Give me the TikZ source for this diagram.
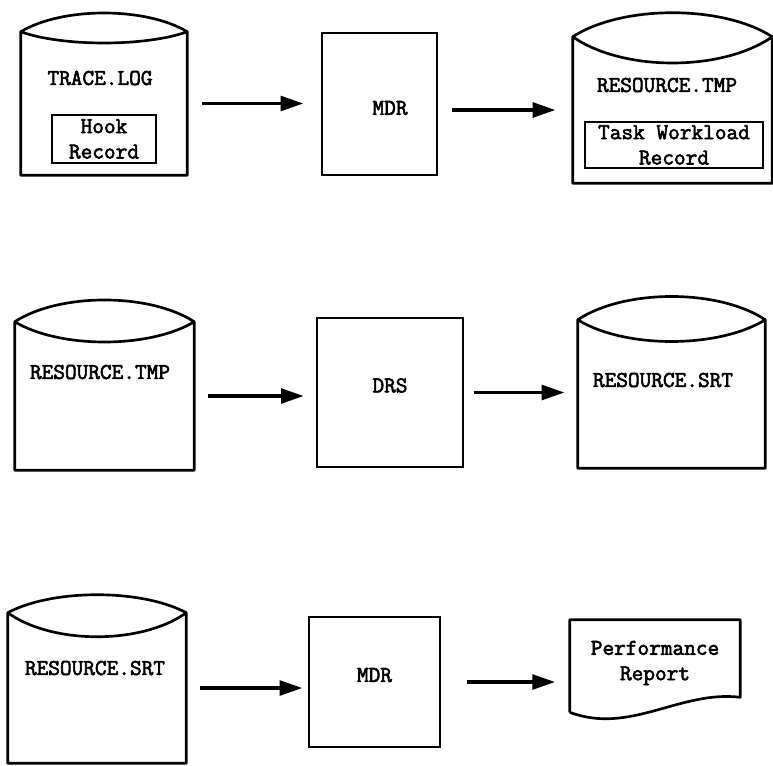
\documentclass[tikz,border=0pt]{standalone}
\usepackage{fontspec}
\setmonofont{Latin Modern Mono}[FakeBold=2.6]
\usetikzlibrary{arrows.meta,fit,calc}

\tikzset{
  every node/.style={font=\ttfamily\fontsize{17}{19}\selectfont},
  storearea/.style={inner sep=0pt},
  storeline/.style={line width=2pt, line join=round},
  prog/.style={draw, line width=2pt, inner sep=0pt},
  recbox/.style={draw, line width=1.8pt, inner sep=0pt, align=center},
  flow/.style={-{Triangle[length=17pt,width=11pt]}, line width=2.6pt},
}

% data store: open box with a lens shaped lid (name, lid up, lid down)
\newcommand\drawstore[3]{%
  \draw[storeline] (#1.north west) -- (#1.south west) -- (#1.south east) -- (#1.north east)
    .. controls ($(#1.north west)!.75!(#1.north east)+(0,-#2)$) and ($(#1.north west)!.25!(#1.north east)+(0,-#2)$) .. (#1.north west)
    .. controls ($(#1.north west)!.25!(#1.north east)+(0,#3)$) and ($(#1.north west)!.75!(#1.north east)+(0,#3)$) .. (#1.north east);}

\begin{document}
\begin{tikzpicture}[x=0.75pt, y=-0.75pt]
    \useasboundingbox (0,0) rectangle (773,765);

    % first row
    \node[storearea, fit={(21,32) (187,175)}] (tracelog) {};
    \node (tracelogtxt) at (100,78) {TRACE.LOG};
    \node[recbox, minimum width=78pt, minimum height=36pt] (hookrec) at (104,139) {Hook\\Record};
    \node[prog, fit={(322,33) (437,175)}] (mdr1) {};
    \node (mdr1txt) at (390,108) {MDR};
    \node[storearea, fit={(573,37) (772,183)}] (restmp1) {};
    \node (restmp1txt) at (667,85) {RESOURCE.TMP};
    \node[recbox, minimum width=133.5pt, minimum height=34.5pt] (taskrec) at (674,145) {Task Workload\\Record};

    % second row
    \node[storearea, fit={(15,322) (194,470)}] (restmp2) {};
    \node (restmp2txt) at (100,372) {RESOURCE.TMP};
    \node[prog, fit={(317,318) (463,467)}] (drs) {DRS};
    \node[storearea, fit={(578,320) (765,468)}] (ressrt2) {};
    \node (ressrt2txt) at (663,380) {RESOURCE.SRT};

    % third row
    \node[storearea, fit={(8,613) (186,763)}] (ressrt3) {};
    \node (ressrt3txt) at (95,668) {RESOURCE.SRT};
    \node[prog, fit={(309,617) (440,747)}] (mdr3) {MDR};
    \node[storearea, fit={(570,620) (740,712)}] (report) {};
    \node[align=center] (reporttxt) at (655,663) {Performance\\Report};

    % outlines of the stores and the report
    \drawstore{tracelog}{25}{15}
    \drawstore{restmp1}{32}{35}
    \drawstore{restmp2}{29}{27}
    \drawstore{ressrt2}{31}{29}
    \drawstore{ressrt3}{24}{32}
    \draw[storeline] (report.south west) -- (report.north west) -- (report.north east)
        -- ($(report.south east)+(0,-15)$) .. controls (680,690) and (630,735) .. (report.south west);

    % flow arrows
    \draw[flow, shorten <=11pt, shorten >=13pt] (tracelog.east) -- (tracelog.east -| mdr1.west);
    \draw[flow, shorten <=10pt, shorten >=13pt] (mdr1.east |- restmp1.west) -- (restmp1.west);
    \draw[flow, shorten <=10pt, shorten >=9pt] (restmp2.east) -- (restmp2.east -| drs.west);
    \draw[flow, shorten <=7pt, shorten >=10pt] (drs.east) -- (drs.east -| ressrt2.west);
    \draw[flow, shorten <=10pt, shorten >=4pt] (ressrt3.east) -- (ressrt3.east -| mdr3.west);
    \draw[flow, shorten <=19pt, shorten >=11pt] (mdr3.east) -- (mdr3.east -| report.west);
\end{tikzpicture}
\end{document}
